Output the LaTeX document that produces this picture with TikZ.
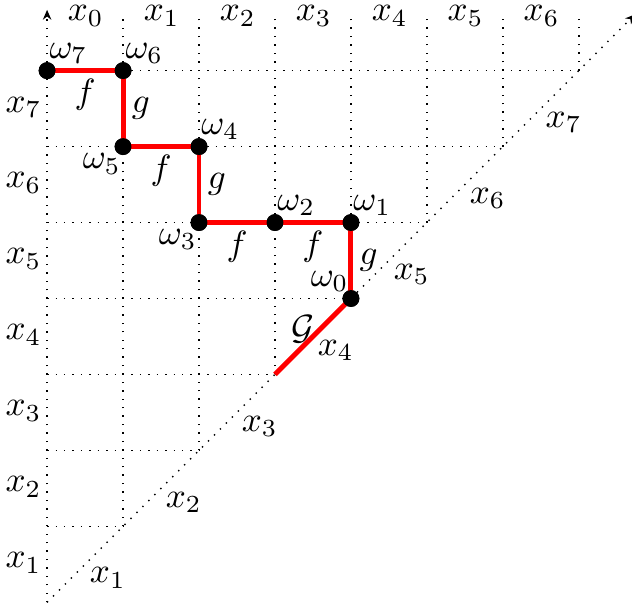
\documentclass[tikz,border=0pt]{standalone}
\usepackage{amsmath}
\usepackage{tikz}
\usetikzlibrary{arrows.meta, positioning}

\begin{document}
\begin{tikzpicture}[
  x=0.76cm, y=0.76cm,
  grid/.style={dotted},
  walk/.style={red, line width=1.4pt},
  dot/.style={circle, fill=black, inner sep=0pt, minimum size=4.8pt},
  lab/.style={inner xsep=0.5pt, inner ysep=1.8pt},
  elab/.style={black, inner sep=1.8pt},
  >={Stealth[length=2.8pt, width=2.4pt]}
]
\useasboundingbox (-0.62,-0.05) rectangle (7.70,7.93);

% axes
\coordinate (o) at (0,0);
\coordinate (ytop) at (0,7.8);
\coordinate (dtop) at (7.74,7.74);
\draw[grid, ->] (o) -- (ytop);
\draw[grid, ->] (o) -- (dtop);

% grid and labels
\foreach \i in {1,...,7} {
  \coordinate (d\i) at (\i,\i);
  \coordinate (l\i) at (0,\i);
  \coordinate (t\i) at (\i,7.75);
  \draw[grid] (l\i) -- (d\i);
  \draw[grid] (d\i) -- (t\i);
  \node (yl\i) at (-0.31,\i-0.48) {$x_{\i}$};
  \node (dl\i) at (\i-0.2,\i-0.68) {$x_{\i}$};
}
\foreach \i in {0,...,6}
  \node[inner sep=0.5pt] (xl\i) at (\i+0.51,7.72) {$x_{\i}$};

% the walk
\node[dot] (w0) at (4,4) {};
\node[dot] (w1) at (4,5) {};
\node[dot] (w2) at (3,5) {};
\node[dot] (w3) at (2,5) {};
\node[dot] (w4) at (2,6) {};
\node[dot] (w5) at (1,6) {};
\node[dot] (w6) at (1,7) {};
\node[dot] (w7) at (0,7) {};
\coordinate (g0) at (3,3);

\draw[walk] (g0) -- node[midway, xshift=-2.8pt, yshift=2pt, black] {$\mathcal{G}$} (w0.center);
\draw[walk] (w0.center) -- node[right, elab] {$g$} (w1.center);
\draw[walk] (w1.center) -- node[below, elab] {$f$} (w2.center);
\draw[walk] (w2.center) -- node[below, elab] {$f$} (w3.center);
\draw[walk] (w3.center) -- node[right, elab] {$g$} (w4.center);
\draw[walk] (w4.center) -- node[below, elab] {$f$} (w5.center);
\draw[walk] (w5.center) -- node[right, elab] {$g$} (w6.center);
\draw[walk] (w6.center) -- node[below, elab] {$f$} (w7.center);
\foreach \k in {0,...,7}
  \node[dot] at (w\k) {};

\node[lab, anchor=south east] (n0) at (w0.center) {$\omega_0$};
\node[lab, anchor=south west] (n1) at (w1.center) {$\omega_1$};
\node[lab, anchor=south west] (n2) at (w2.center) {$\omega_2$};
\node[lab, anchor=north east] (n3) at (w3.center) {$\omega_3$};
\node[lab, anchor=south west] (n4) at (w4.center) {$\omega_4$};
\node[lab, anchor=north east] (n5) at (w5.center) {$\omega_5$};
\node[lab, anchor=south west] (n6) at (w6.center) {$\omega_6$};
\node[lab, anchor=south west] (n7) at (w7.center) {$\omega_7$};
\end{tikzpicture}
\end{document}
